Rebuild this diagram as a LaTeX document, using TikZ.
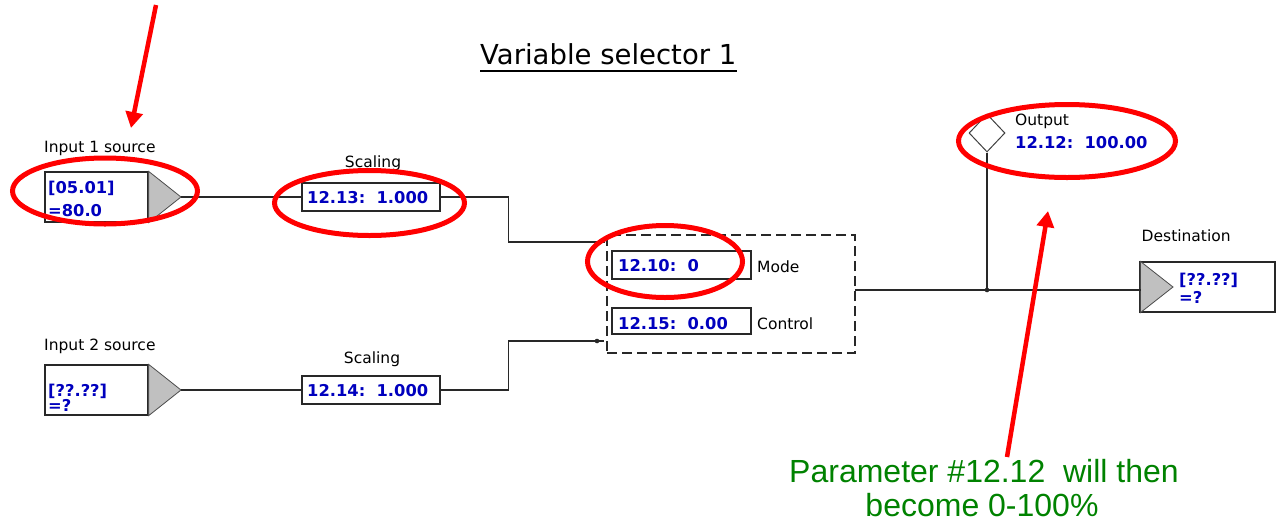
\documentclass[tikz,border=0pt]{standalone}
\usepackage{fontspec}
\setmainfont{DejaVu Sans}
\newfontfamily\arialf{Liberation Sans}
\usetikzlibrary{shapes.geometric,arrows.meta}
\definecolor{valblue}{RGB}{0,0,190}
\definecolor{notegreen}{RGB}{0,130,0}
\definecolor{trigray}{RGB}{192,192,192}
\definecolor{wire}{RGB}{40,40,40}
\begin{document}
\begin{tikzpicture}[x=1pt,y=-1pt,
 lbl/.style={inner sep=0pt, anchor=base west, font=\fontsize{15.5}{18}\selectfont, text=black},
 clbl/.style={lbl, anchor=base},
 val/.style={inner sep=0pt, anchor=base west, font=\fontsize{16.3}{19}\bfseries\selectfont, text=valblue},
 box/.style={draw=wire, line width=1.3pt, inner sep=0pt, fill=white},
 tri/.style={fill=trigray, draw=black!70, line width=0.8pt},
 wireline/.style={draw=wire, line width=1.3pt},
 hl/.style={draw=red, line width=5pt},
 redarrow/.style={draw=red, line width=4.5pt, -{Triangle[width=17pt,length=16pt]}},
 note/.style={inner sep=0pt, anchor=base, font=\arialf\fontsize{32}{38}\selectfont, text=notegreen}]
\useasboundingbox (0,0) rectangle (1279,523);

% title
\node[inner sep=0pt, anchor=base west, font=\fontsize{27.5}{31}\selectfont] (title) at (480,64) {Variable selector 1};
\draw[line width=1.5pt] ([yshift=-7pt]title.base west) -- ([yshift=-7pt]title.base east);

% boxes
\node[box, minimum width=103, minimum height=50] (in1) at (96.5,197) {};
\node[box, minimum width=103, minimum height=50] (in2) at (96.5,390) {};
\node[box, minimum width=138, minimum height=28] (sc1) at (371,197) {};
\node[box, minimum width=138, minimum height=28] (sc2) at (371,390) {};
\node[draw=wire, line width=1.3pt, dash pattern=on 10pt off 5pt, minimum width=248, minimum height=118, inner sep=0pt] (vs) at (731,294) {};
\node[box, minimum width=139, minimum height=28] (mode) at (681.5,265) {};
\node[box, minimum width=139, minimum height=26] (ctrl) at (681.5,321) {};
\node[box, minimum width=135, minimum height=50] (dest) at (1207.5,287) {};
\node[draw=black!75, line width=1pt, shape=diamond, minimum width=36, minimum height=38, inner sep=0pt] (outd) at (987,133) {};

% triangles
\coordinate (in1tip) at (181,197);
\coordinate (in2tip) at (181,390);
\coordinate (desttip) at (1173,287);
\draw[tri] (in1.north east) -- (in1tip) -- (in1.south east) -- cycle;
\draw[tri] (in2.north east) -- (in2tip) -- (in2.south east) -- cycle;
\draw[tri] ([xshift=1pt]dest.north west) -- (desttip) -- ([xshift=1pt]dest.south west) -- cycle;

% texts
\node[lbl] (in1lbl) at (44,152.5) {Input 1 source};
\node[val] (in1a) at (48,193) {[05.01]};
\node[val] (in1b) at (48,216.5) {=80.0};
\node[lbl] (in2lbl) at (44,350.5) {Input 2 source};
\node[val] (in2a) at (48,396) {[??.??]};
\node[val] (in2b) at (48,411.5) {=?};
\node[clbl] (sc1lbl) at (373,167) {Scaling};
\node[val] (sc1t) at (307,203) {12.13:\ \ 1.000};
\node[clbl] (sc2lbl) at (372,363) {Scaling};
\node[val] (sc2t) at (307,396) {12.14:\ \ 1.000};
\node[val] (modet) at (618,271.5) {12.10:\ \ 0};
\node[lbl] (modelbl) at (757,272) {Mode};
\node[val] (ctrlt) at (618,329) {12.15:\ \ 0.00};
\node[lbl] (ctrllbl) at (757,329) {Control};
\node[lbl] (outlbl) at (1015,125) {Output};
\node[val] (outt) at (1015,148) {12.12:\ \ 100.00};
\node[lbl] (destlbl) at (1141.5,241.5) {Destination};
\node[val] (desta) at (1179,285) {[??.??]};
\node[val] (destb) at (1179,303) {=?};

% wires
\coordinate (modein) at (605,242);
\coordinate (ctrlin) at (604,341);
\coordinate (vsout) at (855,290);
\coordinate (junc) at (987,290);
\coordinate (destin) at (1141,290);
\draw[wireline] (in1tip) -- (sc1.west |- in1tip);
\draw[wireline] (in2tip) -- (sc2.west);
\draw[wireline] (sc1.east) -- ++(68,0) |- (modein);
\draw[wireline] (sc2.east) -- ++(68,0) |- (ctrlin);
\fill[wire] (597,341) circle (2.3pt);
\draw[wireline] (vsout) -- (destin);
\draw[wireline] (outd.south) -- (junc);
\fill[wire] (junc) circle (2.3pt);

% highlights
\draw[hl] (105,191) ellipse [x radius=92.5pt, y radius=33pt];
\draw[hl] (369.5,203) ellipse [x radius=95pt, y radius=32.5pt];
\draw[hl] (665,261.5) ellipse [x radius=77.5pt, y radius=36pt];
\draw[hl] (1067,141) ellipse [x radius=108.5pt, y radius=36.5pt];

% red arrows
\coordinate (a1s) at (156,5);
\coordinate (a1e) at (131,128);
\coordinate (a2s) at (1007,457);
\coordinate (a2e) at (1048,211);
\draw[redarrow] (a1s) -- (a1e);
\draw[redarrow] (a2s) -- (a2e);

% note
\node[note] (note1) at (984,482) {Parameter \#12.12\ \ will then};
\node[note] (note2) at (982,516) {become 0-100\%};
\end{tikzpicture}
\end{document}
